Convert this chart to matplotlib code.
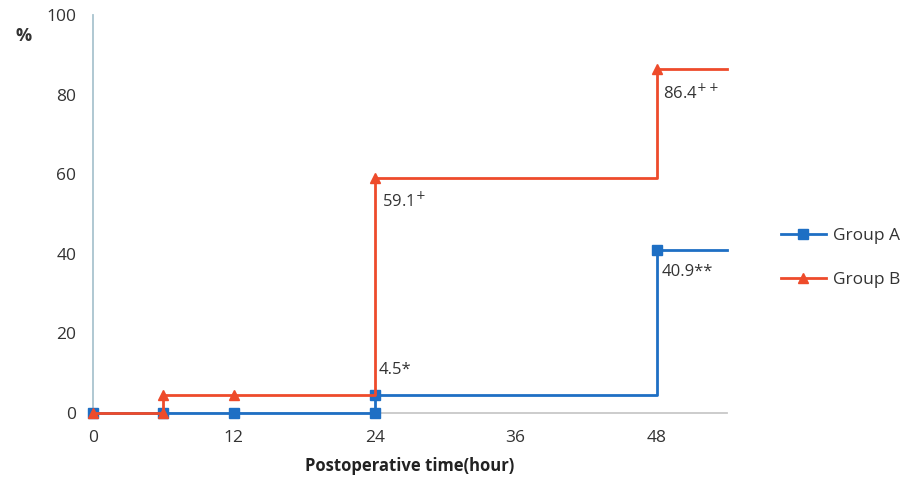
import numpy as np
import matplotlib.pyplot as plt

plt.rcParams['font.family'] = ['Open Sans', 'DejaVu Sans']

# step curves (hours, %)
time_a = [0, 6, 12, 24, 24, 48, 48, 54]
pct_a = [0, 0, 0, 0, 4.5, 4.5, 40.9, 40.9]
marks_a = [0, 1, 2, 3, 4, 6]

time_b = [0, 6, 6, 12, 24, 24, 48, 48, 54]
pct_b = [0, 0, 4.5, 4.5, 4.5, 59.1, 59.1, 86.4, 86.4]
marks_b = [0, 1, 2, 3, 5, 7]

notes = [(24, 4.5, '4.5*'), (24, 59.1, '59.1$^{+}$'),
         (48, 86.4, '86.4$^{++}$'), (48, 40.9, '40.9**')]
note_offsets = [(3, 12), (5, -10), (5, -10), (4, -10)]

xticks = [0, 12, 24, 36, 48]
yticks = [0, 20, 40, 60, 80, 100]

fig = plt.figure(figsize=(9.07, 4.87), dpi=100)
ax = fig.add_axes([0.1025, 0.152, 0.699, 0.817])

blue = '#1e6fc4'
red = '#ee4b2b'
ax.plot(time_a, pct_a, color=blue, lw=2, marker='s', ms=6.5,
        markevery=marks_a, label='Group A', zorder=3, clip_on=False)
ax.plot(time_b, pct_b, color=red, lw=2, marker='^', ms=7,
        markevery=marks_b, label='Group B', zorder=4, clip_on=False)

for (x, y, s), (dx, dy) in zip(notes, note_offsets):
    ax.annotate(s, (x, y), xytext=(dx, dy), textcoords='offset points',
                ha='left', va='top' if dy < 0 else 'bottom',
                fontsize=12, color='#333333')

ax.set_xlim(0, 54)
ax.set_ylim(0, 100)
ax.set_xticks(xticks)
ax.set_yticks(yticks)
ax.tick_params(length=0, labelsize=12.5, colors='#333333', pad=12)
for s in ['top', 'right']:
    ax.spines[s].set_visible(False)
ax.spines['left'].set_color('#a9c4cf')
ax.spines['bottom'].set_color('#c8c8c8')
ax.spines['left'].set_linewidth(1.3)
ax.spines['bottom'].set_linewidth(1.3)

ax.set_xlabel('Postoperative time(hour)', fontsize=12, fontweight='bold',
              color='#222222', labelpad=8)
fig.text(0.017, 0.915, '%', fontsize=13, fontweight='bold', color='#333333')

leg = ax.legend(loc='center left', bbox_to_anchor=(1.06, 0.39), frameon=False,
                fontsize=12.5, handlelength=2.6, labelspacing=1.6,
                handletextpad=0.4)
for t in leg.get_texts():
    t.set_color('#333333')

fig.savefig('out.png', dpi=100)
